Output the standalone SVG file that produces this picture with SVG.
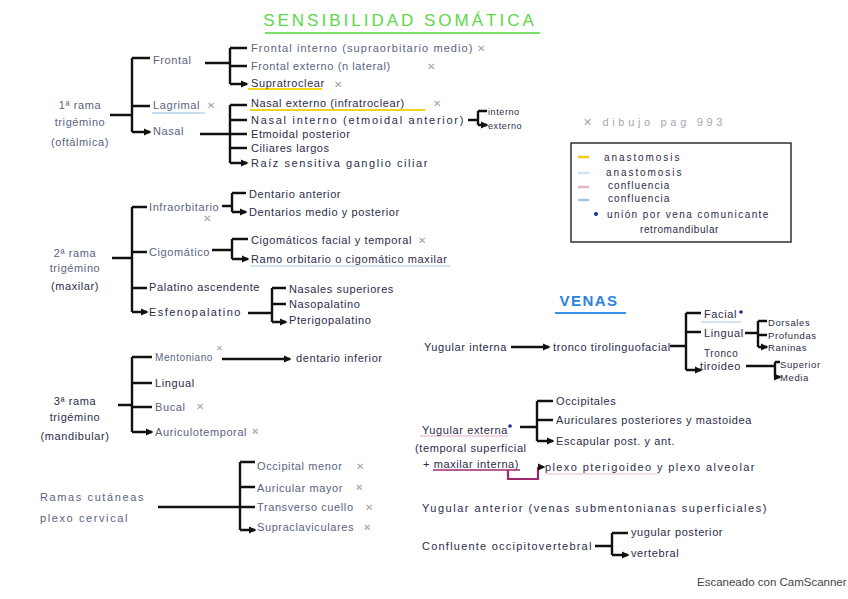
<svg xmlns="http://www.w3.org/2000/svg" width="848" height="599" viewBox="0 0 848 599">
<style>
text{font-family:"Liberation Sans",Arial,sans-serif;font-size:11px;fill:#2c2c48;letter-spacing:0.6px}
.l{fill:#5a6380}
.x{font-family:"DejaVu Sans",sans-serif;fill:#a0a0a8;font-size:10px;letter-spacing:0}
.c{stroke:#111;stroke-width:2.4;fill:none}
.a{stroke:#111;stroke-width:2.4;fill:none;marker-end:url(#ah)}
.t{text-anchor:middle}
</style>
<defs>
<marker id="ah" viewBox="0 0 10 10" refX="8" refY="5" markerWidth="8" markerHeight="8" markerUnits="userSpaceOnUse" orient="auto"><path d="M0,0.5 L10,5 L0,9.5 z" fill="#111"/></marker>
</defs>
<rect width="848" height="599" fill="#fff"/>

<g id="title">
<text x="400" y="26" class="t" style="font-size:17px;fill:#5cd848;letter-spacing:3px">SENSIBILIDAD SOMÁTICA</text>
<line x1="265" y1="33" x2="540" y2="33" stroke="#7be06a" stroke-width="2"/>
</g>

<g id="connectors">
<path class="c" d="M110,115 H132 M132,58 V132"/>
<path class="a" d="M132,58 H150 M132,106 H150 M132,132 H150"/>
<path class="c" d="M205,63 H230 M230,48 V84"/>
<path class="a" d="M230,48 H247 M230,66 H247 M230,84 H247"/>
<path class="c" d="M200,134 H230 M230,105 V163"/>
<path class="a" d="M230,105 H247 M230,120 H247 M230,134 H247 M230,148 H247 M230,163 H247"/>
<path class="c" d="M468,120 H478 M478,111 V125"/>
<path class="a" d="M478,111 H487 M478,125 H487"/>
<path class="c" d="M112,258 H132 M132,207 V312"/>
<path class="a" d="M132,207 H147 M132,252 H147 M132,288 H147 M132,312 H147"/>
<path class="c" d="M222,206 H232 M232,193 V212"/>
<path class="a" d="M232,193 H246 M232,212 H246"/>
<path class="c" d="M212,250 H232 M232,239 V259"/>
<path class="a" d="M232,239 H248 M232,259 H248"/>
<path class="c" d="M248,313 H272 M272,288 V322"/>
<path class="a" d="M272,288 H286 M272,304 H286 M272,322 H286"/>
<path class="c" d="M118,405 H132 M132,357 V432"/>
<path class="a" d="M132,357 H152 M132,383 H152 M132,407 H152 M132,432 H152"/>
<path class="a" d="M222,359 H290"/>
<path class="c" d="M158,507 H240 M240,462 V530"/>
<path class="a" d="M240,462 H255 M240,487 H255 M240,507 H255 M240,530 H255"/>
<path class="a" d="M511,347 H549"/>
<path class="c" d="M670,346 H686 M686,313 V370"/>
<path class="a" d="M686,313 H701 M686,332 H701 M686,370 H701"/>
<path class="c" d="M745,333 H758 M758,321 V347"/>
<path class="a" d="M758,321 H767 M758,335 H767 M758,347 H767"/>
<path class="c" d="M746,366 H775 M775,362 V377"/>
<path class="a" d="M775,362 H780 M775,377 H780"/>
<path class="c" d="M520,427 H537 M537,401 V441"/>
<path class="a" d="M537,401 H553 M537,420 H553 M537,441 H553"/>
<path d="M508,470 V479 H538 V467" fill="none" stroke="#a02870" stroke-width="2.2"/>
<path class="a" d="M538,467 H544" style="stroke-width:2"/>
<path class="c" d="M595,546 H612 M612,533 V555"/>
<path class="a" d="M612,533 H628 M612,555 H628"/>
</g>

<g id="n-oftalmica">
<text x="80" y="109" class="t l">1ª rama</text>
<text x="80" y="126" class="t l">trigémino</text>
<text x="80" y="146" class="t l">(oftálmica)</text>
</g>
<g id="n-frontal"><text x="153" y="64" class="l">Frontal</text></g>
<g id="n-lagrimal">
<line x1="152" y1="113" x2="205" y2="113" stroke="#c8def0" stroke-width="2"/>
<text x="153" y="109" class="l">Lagrimal</text><text x="207" y="109" class="x">✕</text></g>
<g id="n-nasal"><text x="153" y="135" class="l">Nasal</text></g>
<g id="n-fi"><text x="251" y="52" class="l" textLength="222" lengthAdjust="spacing">Frontal interno (supraorbitario medio)</text><text x="477" y="52" class="x">✕</text></g>
<g id="n-fe"><text x="251" y="70" class="l">Frontal externo (n lateral)</text><text x="427" y="70" class="x">✕</text></g>
<g id="n-supra"><line x1="248" y1="89" x2="322" y2="89" stroke="#f2d41c" stroke-width="2"/><text x="251" y="87">Supratroclear</text><text x="334" y="88" class="x">✕</text></g>
<g id="n-ne"><line x1="250" y1="110" x2="425" y2="110" stroke="#f2d41c" stroke-width="2"/><text x="251" y="107">Nasal externo (infratroclear)</text><text x="433" y="107" class="x">✕</text></g>
<g id="n-ni"><text x="251" y="124" textLength="213" lengthAdjust="spacing">Nasal interno (etmoidal anterior)</text></g>
<g id="n-int"><text x="488" y="115" style="font-size:9px">interno</text></g>
<g id="n-ext"><text x="488" y="129" style="font-size:9px">externo</text></g>
<g id="n-ep"><text x="251" y="138">Etmoidal posterior</text></g>
<g id="n-cl"><text x="251" y="152">Ciliares largos</text></g>
<g id="n-rs"><text x="251" y="167" textLength="177" lengthAdjust="spacing">Raíz sensitiva ganglio ciliar</text></g>

<g id="note"><text x="583" y="126" style="fill:#a6a6b0;font-size:11px" textLength="140" lengthAdjust="spacing">✕ dibujo pag 993</text></g>
<g id="legend">
<rect x="571" y="143" width="220" height="99" fill="none" stroke="#222" stroke-width="1.4"/>
<line x1="578" y1="157" x2="589" y2="157" stroke="#f2cf14" stroke-width="2.5"/>
<text x="604" y="161" style="font-size:10px" textLength="76" lengthAdjust="spacing">anastomosis</text>
<line x1="578" y1="173" x2="589" y2="173" stroke="#cfe3f3" stroke-width="2.5"/>
<text x="606" y="176" style="font-size:10px" textLength="76" lengthAdjust="spacing">anastomosis</text>
<line x1="578" y1="187" x2="589" y2="187" stroke="#e8b4cc" stroke-width="2.5"/>
<text x="608" y="189" style="font-size:10px" textLength="62" lengthAdjust="spacing">confluencia</text>
<line x1="578" y1="200" x2="589" y2="200" stroke="#9cc8ec" stroke-width="2.5"/>
<text x="608" y="202" style="font-size:10px" textLength="62" lengthAdjust="spacing">confluencia</text>
<circle cx="596" cy="214" r="2" fill="#1b2a9a"/>
<text x="607" y="218" style="font-size:10px" textLength="162" lengthAdjust="spacing">unión por vena comunicante</text>
<text x="640" y="233" style="font-size:10px">retromandibular</text>
</g>

<g id="n-maxilar">
<text x="75" y="257" class="t l">2ª rama</text>
<text x="75" y="272" class="t l">trigémino</text>
<text x="75" y="290" class="t">(maxilar)</text>
</g>
<g id="n-infra"><text x="149" y="211" class="l">Infraorbitario</text><text x="203" y="222" class="x">✕</text></g>
<g id="n-da"><text x="249" y="198">Dentario anterior</text></g>
<g id="n-dm"><text x="249" y="216">Dentarios medio y posterior</text></g>
<g id="n-cig"><text x="149" y="256" class="l">Cigomático</text></g>
<g id="n-cft"><text x="251" y="244">Cigomáticos facial y temporal</text><text x="418" y="244" class="x">✕</text></g>
<g id="n-ro"><line x1="250" y1="266" x2="450" y2="266" stroke="#cfe3f3" stroke-width="2"/><text x="251" y="263">Ramo orbitario o cigomático maxilar</text></g>
<g id="n-pa"><text x="149" y="291">Palatino ascendente</text></g>
<g id="n-esf"><text x="149" y="316" textLength="92" lengthAdjust="spacing">Esfenopalatino</text></g>
<g id="n-ns"><text x="289" y="293">Nasales superiores</text></g>
<g id="n-np"><text x="289" y="308">Nasopalatino</text></g>
<g id="n-pt"><text x="289" y="324">Pterigopalatino</text></g>

<g id="n-mandibular">
<text x="75" y="405" class="t">3ª rama</text>
<text x="75" y="421" class="t">trigémino</text>
<text x="75" y="440" class="t">(mandibular)</text>
</g>
<g id="n-ment"><text x="155" y="361" class="l" textLength="58" lengthAdjust="spacingAndGlyphs">Mentoniano</text><text x="216" y="351" class="x" style="font-size:8px">✕</text></g>
<g id="n-di"><text x="296" y="362">dentario inferior</text></g>
<g id="n-ling"><text x="155" y="387">Lingual</text></g>
<g id="n-buc"><text x="155" y="411" class="l">Bucal</text><text x="196" y="410" class="x">✕</text></g>
<g id="n-aur"><text x="155" y="436" class="l">Auriculotemporal</text><text x="251" y="435" class="x">✕</text></g>

<g id="n-cervical">
<text x="40" y="501" class="l" textLength="104" lengthAdjust="spacing">Ramas cutáneas</text>
<text x="40" y="522" class="l" textLength="88" lengthAdjust="spacing">plexo cervical</text>
</g>
<g id="n-om"><text x="257" y="470" class="l">Occipital menor</text><text x="356" y="470" class="x">✕</text></g>
<g id="n-am"><text x="257" y="492" class="l">Auricular mayor</text><text x="355" y="491" class="x">✕</text></g>
<g id="n-tc"><text x="257" y="511" class="l">Transverso cuello</text><text x="365" y="511" class="x">✕</text></g>
<g id="n-sc"><text x="257" y="531" class="l">Supraclaviculares</text><text x="363" y="531" class="x">✕</text></g>

<g id="venas-title">
<text x="589" y="306" class="t" style="font-size:15px;font-weight:bold;fill:#2b82e6;letter-spacing:1.5px">VENAS</text>
<line x1="555" y1="313" x2="626" y2="313" stroke="#3a90ea" stroke-width="2.2"/>
</g>
<g id="n-yi"><text x="424" y="351">Yugular interna</text></g>
<g id="n-ttf"><text x="553" y="351">tronco tirolinguofacial</text></g>
<g id="n-fac"><line x1="701" y1="322" x2="741" y2="322" stroke="#cfe3f3" stroke-width="2"/><text x="704" y="318">Facial</text><circle cx="741" cy="312" r="1.8" fill="#1b2a9a"/></g>
<g id="n-lin"><text x="704" y="337">Lingual</text></g>
<g id="n-dor"><text x="768" y="326" style="font-size:9.5px">Dorsales</text></g>
<g id="n-pro"><text x="768" y="339" style="font-size:9.5px">Profundas</text></g>
<g id="n-ran"><text x="768" y="351" style="font-size:9.5px">Raninas</text></g>
<g id="n-tt"><text x="704" y="357" style="font-size:10px">Tronco</text><text x="700" y="370">tiroideo</text></g>
<g id="n-sup"><text x="780" y="368" style="font-size:9.5px">Superior</text></g>
<g id="n-med"><text x="780" y="381" style="font-size:9.5px">Media</text></g>

<g id="n-ye">
<line x1="420" y1="436" x2="508" y2="436" stroke="#ecc6d8" stroke-width="1.5"/>
<text x="422" y="434">Yugular externa</text><circle cx="510" cy="426" r="1.8" fill="#1b2a9a"/>
<text x="415" y="452">(temporal superficial</text>
<text x="423" y="468">+ <tspan>maxilar interna)</tspan></text>
<line x1="433" y1="470" x2="520" y2="470" stroke="#a02870" stroke-width="1.6"/>
</g>
<g id="n-occ"><text x="556" y="405">Occipitales</text></g>
<g id="n-apm"><text x="556" y="424">Auriculares posteriores y mastoidea</text></g>
<g id="n-esc"><text x="556" y="445">Escapular post. y ant.</text></g>
<g id="n-plexo"><line x1="545" y1="474" x2="660" y2="474" stroke="#eed6e2" stroke-width="1.5"/><text x="545" y="471" textLength="210" lengthAdjust="spacing">plexo pterigoideo y plexo alveolar</text></g>
<g id="n-ya"><text x="422" y="512" textLength="345" lengthAdjust="spacing">Yugular anterior (venas submentonianas superficiales)</text></g>
<g id="n-co"><text x="422" y="550" textLength="170" lengthAdjust="spacing">Confluente occipitovertebral</text></g>
<g id="n-yp"><text x="631" y="536">yugular posterior</text></g>
<g id="n-ver"><text x="631" y="557">vertebral</text></g>

<text x="697" y="586" style="font-size:11.5px;fill:#444;letter-spacing:0">Escaneado con CamScanner</text>
</svg>
